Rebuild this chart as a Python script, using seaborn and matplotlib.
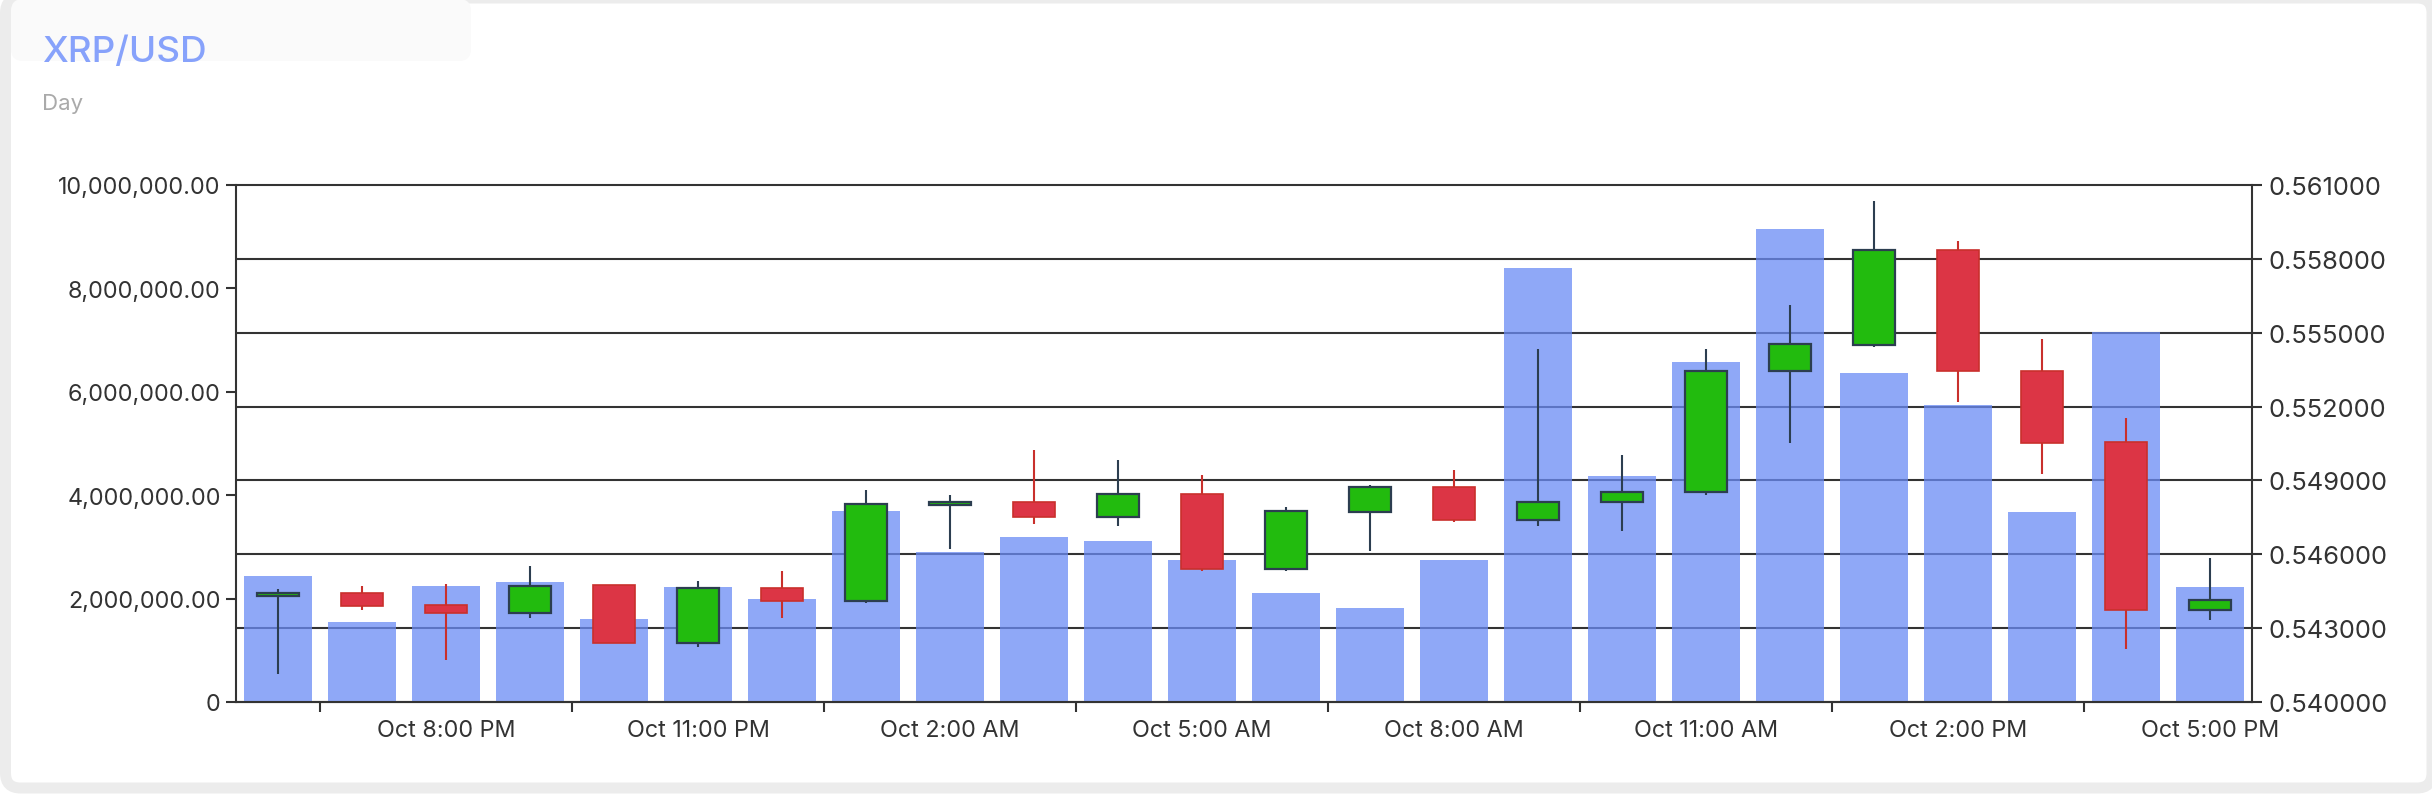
import matplotlib
matplotlib.use("Agg")
import matplotlib.pyplot as plt
import matplotlib.transforms as mtransforms
from matplotlib.patches import FancyBboxPatch
from matplotlib.ticker import FuncFormatter, FixedLocator
import seaborn as sns
import pandas as pd

# ---------------- data ----------------
hours = ["Oct 6:00 PM", "Oct 7:00 PM", "Oct 8:00 PM", "Oct 9:00 PM", "Oct 10:00 PM",
         "Oct 11:00 PM", "Oct 12:00 AM", "Oct 1:00 AM", "Oct 2:00 AM", "Oct 3:00 AM",
         "Oct 4:00 AM", "Oct 5:00 AM", "Oct 6:00 AM", "Oct 7:00 AM", "Oct 8:00 AM",
         "Oct 9:00 AM", "Oct 10:00 AM", "Oct 11:00 AM", "Oct 12:00 PM", "Oct 1:00 PM",
         "Oct 2:00 PM", "Oct 3:00 PM", "Oct 4:00 PM", "Oct 5:00 PM"]
volume = [2.43e6, 1.54e6, 2.25e6, 2.33e6, 1.61e6, 2.23e6, 2.00e6, 3.69e6, 2.90e6, 3.20e6,
          3.11e6, 2.75e6, 2.10e6, 1.81e6, 2.74e6, 8.39e6, 4.38e6, 6.58e6, 9.14e6, 6.37e6,
          5.75e6, 3.67e6, 7.16e6, 2.22e6]
open_ = [0.54432, 0.54444, 0.54395, 0.54361, 0.54475, 0.54241, 0.54464, 0.54410, 0.54800,
         0.54814, 0.54751, 0.54845, 0.54542, 0.54772, 0.54874, 0.54741, 0.54811, 0.54851,
         0.55345, 0.55452, 0.55837, 0.55345, 0.55055, 0.54374]
close = [0.54441, 0.54390, 0.54361, 0.54472, 0.54238, 0.54463, 0.54410, 0.54803, 0.54814,
         0.54751, 0.54844, 0.54540, 0.54774, 0.54874, 0.54741, 0.54813, 0.54853, 0.55345,
         0.55453, 0.55835, 0.55343, 0.55052, 0.54372, 0.54413]
high = [0.54461, 0.54471, 0.54481, 0.54551, 0.54475, 0.54492, 0.54532, 0.54862, 0.54842,
        0.55023, 0.54983, 0.54921, 0.54791, 0.54881, 0.54942, 0.55433, 0.55003, 0.55433,
        0.55613, 0.56033, 0.55873, 0.55473, 0.55153, 0.54583]
low = [0.54113, 0.54373, 0.54172, 0.54342, 0.54238, 0.54223, 0.54342, 0.54404, 0.54621,
       0.54723, 0.54713, 0.54532, 0.54532, 0.54613, 0.54732, 0.54713, 0.54693, 0.54842,
       0.55054, 0.55444, 0.55217, 0.54925, 0.54214, 0.54335]
xtick_labels = ["Oct 8:00 PM", "Oct 11:00 PM", "Oct 2:00 AM", "Oct 5:00 AM",
                "Oct 8:00 AM", "Oct 11:00 AM", "Oct 2:00 PM", "Oct 5:00 PM"]
vol_ticks = [0, 2e6, 4e6, 6e6, 8e6, 10e6]
price_ticks = [0.540, 0.543, 0.546, 0.549, 0.552, 0.555, 0.558, 0.561]

title = "XRP/USD"
subtitle = "Day"

# ---------------- style ----------------
sns.set_theme(style="white")
plt.rcParams["font.family"] = ["Inter", "DejaVu Sans"]

TEXT = "#333333"
GRID = "#333333"
BAR = "#6a8bf5"
GREEN = "#22bb0e"
GREEN_EDGE = "#2c3e50"
RED = "#dc3545"
RED_EDGE = "#c9302c"

fig = plt.figure(figsize=(24.32, 8.04), dpi=100)
fig.patch.set_facecolor("white")

# card with grey border
card = FancyBboxPatch((0.055, 0.15), 24.265, 7.90,
                      boxstyle="round,pad=0,rounding_size=0.15",
                      transform=fig.dpi_scale_trans, facecolor="white",
                      edgecolor="#ececec", linewidth=7.9, zorder=-3)
fig.patches.append(card)
shade = FancyBboxPatch((0.11, 7.42), 4.6, 0.62,
                       boxstyle="round,pad=0,rounding_size=0.12",
                       transform=fig.dpi_scale_trans, facecolor="#fafafa",
                       edgecolor="none", zorder=-2)
fig.patches.append(shade)

fig.text(42 / 2432, 1 - 52 / 804, title, color="#87a2fb", fontsize=26.5,
         fontweight="medium", ha="left", va="center")
fig.text(42 / 2432, 1 - 104 / 804, subtitle, color="#aaaaaa", fontsize=16,
         ha="left", va="center")

ax = fig.add_axes([236 / 2432, 101 / 804, (2252 - 236) / 2432, (703 - 186) / 804])
ax.set_facecolor("none")
ax2 = ax.twinx()

df = pd.DataFrame({"hour": hours, "volume": volume})
sns.barplot(data=df, x="hour", y="volume", color=BAR, alpha=0.75, width=0.8,
            saturation=1, ax=ax, zorder=2)
for p in ax.patches:
    p.set_edgecolor("none")

ax.set_ylim(0, 10e6)
ax.set_xlim(-0.5, len(hours) - 0.5)
ax2.set_ylim(0.540, 0.561)

# gridlines from right-axis ticks, drawn beneath the translucent bars
blend = mtransforms.blended_transform_factory(ax.transAxes, ax2.transData)
for pt in price_ticks:
    ax.plot([0, 1], [pt, pt], transform=blend, color=GRID, lw=1.5, zorder=1,
            clip_on=False, solid_capstyle="butt")

# candles
xs = list(range(len(hours)))
for i in xs:
    up = close[i] >= open_[i]
    edge = GREEN_EDGE if up else RED_EDGE
    ax2.vlines(i, low[i], high[i], color=edge, lw=1.5, zorder=3)
bottoms = [min(o, c) for o, c in zip(open_, close)]
heights = [abs(c - o) for o, c in zip(open_, close)]
faces = [GREEN if c >= o else RED for o, c in zip(open_, close)]
edges = [GREEN_EDGE if c >= o else RED_EDGE for o, c in zip(open_, close)]
lws = [1.6 if c >= o else 1.2 for o, c in zip(open_, close)]
ax2.bar(xs, heights, bottom=bottoms, width=0.5, color=faces, edgecolor=edges,
        linewidth=lws, zorder=4)

# axes formatting
ax.set_xlabel("")
ax.set_ylabel("")
ax2.set_ylabel("")
ax.yaxis.set_major_locator(FixedLocator(vol_ticks))
ax.yaxis.set_major_formatter(FuncFormatter(lambda v, p: "0" if v == 0 else f"{v:,.2f}"))
ax2.yaxis.set_major_locator(FixedLocator(price_ticks))
ax2.yaxis.set_major_formatter(FuncFormatter(lambda v, p: f"{v:.6f}"))

label_pos = [2, 5, 8, 11, 14, 17, 20, 23]
ax.set_xticks(label_pos)
ax.set_xticklabels(xtick_labels)
ax.set_xticks([0.5, 3.5, 6.5, 9.5, 12.5, 15.5, 18.5, 21.5], minor=True)
ax.tick_params(axis="x", which="major", length=0, pad=12, labelsize=16.8, labelcolor=TEXT)
ax.tick_params(axis="x", which="minor", length=7, width=1.5, color=GRID, bottom=True)
ax.tick_params(axis="y", which="major", length=7, width=1.5, color=GRID, pad=4,
               labelsize=16.8, labelcolor=TEXT, left=True)
ax2.tick_params(axis="y", which="major", length=7, width=1.5, color=GRID, pad=5,
                labelsize=18.3, labelcolor=TEXT, right=True)

for s in ["top", "right"]:
    ax.spines[s].set_visible(False)
for s in ["top", "left", "bottom"]:
    ax2.spines[s].set_visible(False)
for sp in [ax.spines["left"], ax.spines["bottom"], ax2.spines["right"]]:
    sp.set_color(GRID)
    sp.set_linewidth(1.5)
    sp.set_visible(True)
ax.grid(False)
ax2.grid(False)

fig.savefig("out.png", dpi=100, facecolor=fig.get_facecolor())
